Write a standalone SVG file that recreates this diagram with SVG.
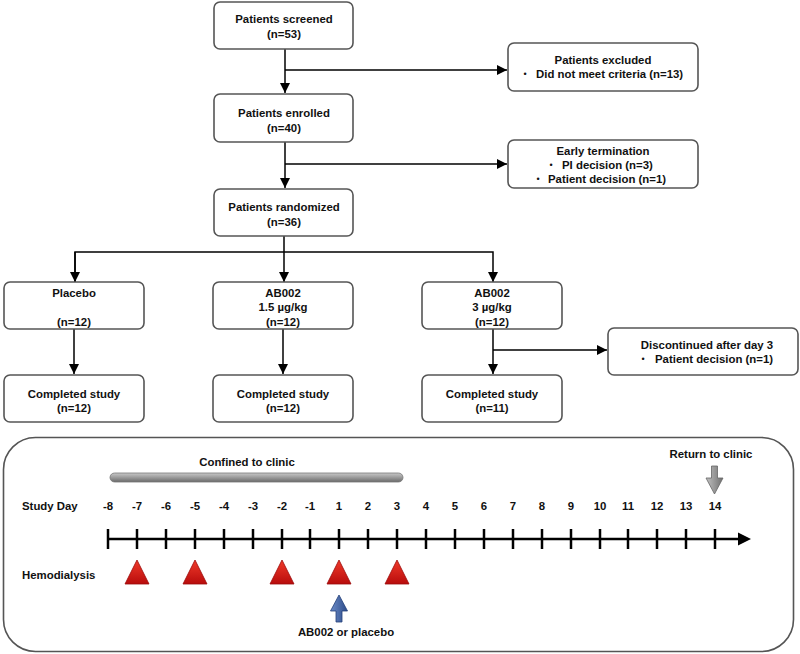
<svg xmlns="http://www.w3.org/2000/svg" width="800" height="654" viewBox="0 0 800 654">
<defs>
<style>
.box{fill:#fff;stroke:#555;stroke-width:1.6}
.t{font-family:"Liberation Sans",Arial,sans-serif;font-weight:bold;font-size:11.4px;fill:#111;text-anchor:middle}
.l{text-anchor:start}
.b{font-family:"Liberation Sans",Arial,sans-serif;font-size:9px;fill:#111;text-anchor:middle}
.c{stroke:#000;stroke-width:1.5;fill:none}
.tick{stroke:#000;stroke-width:2.5}
</style>
<marker id="ah" viewBox="0 0 10 10" refX="10" refY="5" markerWidth="10" markerHeight="10" markerUnits="userSpaceOnUse" orient="auto">
<path d="M0,0 L10,5 L0,10 z" fill="#000"/>
</marker>
<linearGradient id="red" x1="0" y1="0" x2="0" y2="1">
<stop offset="0" stop-color="#f03a2a"/>
<stop offset="1" stop-color="#b80c0c"/>
</linearGradient>
<linearGradient id="gray" x1="0" y1="0" x2="0" y2="1">
<stop offset="0" stop-color="#c8c8c8"/>
<stop offset="0.5" stop-color="#9a9a9a"/>
<stop offset="1" stop-color="#6a6a6a"/>
</linearGradient>
<linearGradient id="grayh" x1="0" y1="0" x2="1" y2="0">
<stop offset="0" stop-color="#c0c0c0"/>
<stop offset="1" stop-color="#707070"/>
</linearGradient>
<linearGradient id="blue" x1="0" y1="0" x2="1" y2="0">
<stop offset="0" stop-color="#6c8cc8"/>
<stop offset="1" stop-color="#2b4a88"/>
</linearGradient>
</defs>
<rect width="800" height="654" fill="#fff"/>

<g id="connectors">
<line class="c" x1="285" y1="49" x2="285" y2="93" marker-end="url(#ah)"/>
<line class="c" x1="285" y1="70" x2="507" y2="70" marker-end="url(#ah)"/>
<line class="c" x1="285" y1="142" x2="285" y2="188" marker-end="url(#ah)"/>
<line class="c" x1="285" y1="164" x2="507" y2="164" marker-end="url(#ah)"/>
<line class="c" x1="284" y1="236" x2="284" y2="282" marker-end="url(#ah)"/>
<polyline class="c" points="75,282 75,252 493,252 493,282" marker-end="url(#ah)"/>
<line class="c" x1="75" y1="252" x2="75" y2="282" marker-end="url(#ah)"/>
<line class="c" x1="74" y1="329" x2="74" y2="374" marker-end="url(#ah)"/>
<line class="c" x1="283" y1="329" x2="283" y2="374" marker-end="url(#ah)"/>
<line class="c" x1="493" y1="329" x2="493" y2="374" marker-end="url(#ah)"/>
<line class="c" x1="493" y1="350" x2="607" y2="350" marker-end="url(#ah)"/>
</g>

<g id="screened">
<rect class="box" x="214" y="2" width="139" height="47" rx="6"/>
<text class="t" x="284" y="23">Patients screened</text>
<text class="t" x="284" y="38">(n=53)</text>
</g>
<g id="excluded">
<rect class="box" x="508" y="43" width="190" height="48" rx="6"/>
<text class="t" x="603" y="64">Patients excluded</text>
<text class="b" x="525" y="77">•</text>
<text class="t l" x="536" y="78">Did not meet criteria (n=13)</text>
</g>
<g id="enrolled">
<rect class="box" x="214" y="94" width="139" height="48" rx="6"/>
<text class="t" x="284" y="117">Patients enrolled</text>
<text class="t" x="284" y="132">(n=40)</text>
</g>
<g id="early">
<rect class="box" x="508" y="140" width="190" height="48" rx="6"/>
<text class="t" x="603" y="155">Early termination</text>
<text class="b" x="551" y="168">•</text>
<text class="t l" x="562" y="169">PI decision (n=3)</text>
<text class="b" x="538" y="182">•</text>
<text class="t l" x="548" y="183">Patient decision (n=1)</text>
</g>
<g id="randomized">
<rect class="box" x="214" y="189" width="139" height="47" rx="6"/>
<text class="t" x="284" y="211">Patients randomized</text>
<text class="t" x="284" y="226">(n=36)</text>
</g>
<g id="placebo">
<rect class="box" x="4" y="282" width="140" height="47" rx="6"/>
<text class="t" x="74" y="297">Placebo</text>
<text class="t" x="74" y="326">(n=12)</text>
</g>
<g id="ab15">
<rect class="box" x="213" y="282" width="140" height="47" rx="6"/>
<text class="t" x="283" y="297">AB002</text>
<text class="t" x="283" y="311">1.5 µg/kg</text>
<text class="t" x="283" y="326">(n=12)</text>
</g>
<g id="ab3">
<rect class="box" x="422" y="282" width="140" height="47" rx="6"/>
<text class="t" x="492" y="297">AB002</text>
<text class="t" x="492" y="311">3 µg/kg</text>
<text class="t" x="492" y="326">(n=12)</text>
</g>
<g id="discontinued">
<rect class="box" x="608" y="328" width="190" height="47" rx="6"/>
<text class="t" x="707" y="349">Discontinued after day 3</text>
<text class="b" x="643" y="362">•</text>
<text class="t l" x="655" y="363">Patient decision (n=1)</text>
</g>
<g id="completed1">
<rect class="box" x="4" y="375" width="140" height="47" rx="6"/>
<text class="t" x="74" y="398">Completed study</text>
<text class="t" x="74" y="412">(n=12)</text>
</g>
<g id="completed2">
<rect class="box" x="213" y="375" width="140" height="47" rx="6"/>
<text class="t" x="283" y="398">Completed study</text>
<text class="t" x="283" y="412">(n=12)</text>
</g>
<g id="completed3">
<rect class="box" x="422" y="375" width="140" height="47" rx="6"/>
<text class="t" x="492" y="398">Completed study</text>
<text class="t" x="492" y="412">(n=11)</text>
</g>

<g id="timeline">
<rect x="3.5" y="437.5" width="790" height="214" rx="32" fill="#fff" stroke="#555" stroke-width="1.6"/>
<text class="t" x="247" y="466">Confined to clinic</text>
<rect x="110" y="473" width="293" height="9" rx="4.5" fill="url(#gray)" stroke="#777" stroke-width="0.8"/>
<text class="t" x="711" y="458">Return to clinic</text>
<path d="M711.5,466 L717.5,466 L717.5,478 L723,478 L714.5,494 L706,478 L711.5,478 Z" fill="url(#grayh)" stroke="#666" stroke-width="0.8"/>
<text class="t l" x="22" y="510">Study Day</text>
<g class="t">
<text x="108" y="510">-8</text>
<text x="137" y="510">-7</text>
<text x="166" y="510">-6</text>
<text x="195" y="510">-5</text>
<text x="224" y="510">-4</text>
<text x="253" y="510">-3</text>
<text x="282" y="510">-2</text>
<text x="310" y="510">-1</text>
<text x="339" y="510">1</text>
<text x="368" y="510">2</text>
<text x="397" y="510">3</text>
<text x="426" y="510">4</text>
<text x="455" y="510">5</text>
<text x="484" y="510">6</text>
<text x="513" y="510">7</text>
<text x="542" y="510">8</text>
<text x="571" y="510">9</text>
<text x="600" y="510">10</text>
<text x="628" y="510">11</text>
<text x="657" y="510">12</text>
<text x="686" y="510">13</text>
<text x="715" y="510">14</text>
</g>
<line x1="108" y1="539" x2="740" y2="539" stroke="#000" stroke-width="2.5"/>
<path d="M738,532.5 L751,539 L738,545.5 Z" fill="#000"/>
<g class="tick">
<line x1="108" y1="529" x2="108" y2="549"/>
<line x1="137" y1="529" x2="137" y2="549"/>
<line x1="166" y1="529" x2="166" y2="549"/>
<line x1="195" y1="529" x2="195" y2="549"/>
<line x1="224" y1="529" x2="224" y2="549"/>
<line x1="253" y1="529" x2="253" y2="549"/>
<line x1="282" y1="529" x2="282" y2="549"/>
<line x1="310" y1="529" x2="310" y2="549"/>
<line x1="339" y1="529" x2="339" y2="549"/>
<line x1="368" y1="529" x2="368" y2="549"/>
<line x1="397" y1="529" x2="397" y2="549"/>
<line x1="426" y1="529" x2="426" y2="549"/>
<line x1="455" y1="529" x2="455" y2="549"/>
<line x1="484" y1="529" x2="484" y2="549"/>
<line x1="513" y1="529" x2="513" y2="549"/>
<line x1="542" y1="529" x2="542" y2="549"/>
<line x1="571" y1="529" x2="571" y2="549"/>
<line x1="600" y1="529" x2="600" y2="549"/>
<line x1="628" y1="529" x2="628" y2="549"/>
<line x1="657" y1="529" x2="657" y2="549"/>
<line x1="686" y1="529" x2="686" y2="549"/>
<line x1="715" y1="529" x2="715" y2="549"/>
</g>
<text class="t l" x="22" y="579">Hemodialysis</text>
<g fill="url(#red)" stroke="#9a0a0a" stroke-width="0.8">
<path d="M137,560 L149,584 L125,584 Z"/>
<path d="M195,560 L207,584 L183,584 Z"/>
<path d="M282,560 L294,584 L270,584 Z"/>
<path d="M339,560 L351,584 L327,584 Z"/>
<path d="M397,560 L409,584 L385,584 Z"/>
</g>
<path d="M339,595 L347.5,611 L342,611 L342,622 L336,622 L336,611 L330.5,611 Z" fill="url(#blue)" stroke="#23407a" stroke-width="0.8"/>
<text class="t" x="346" y="636">AB002 or placebo</text>
</g>
</svg>
